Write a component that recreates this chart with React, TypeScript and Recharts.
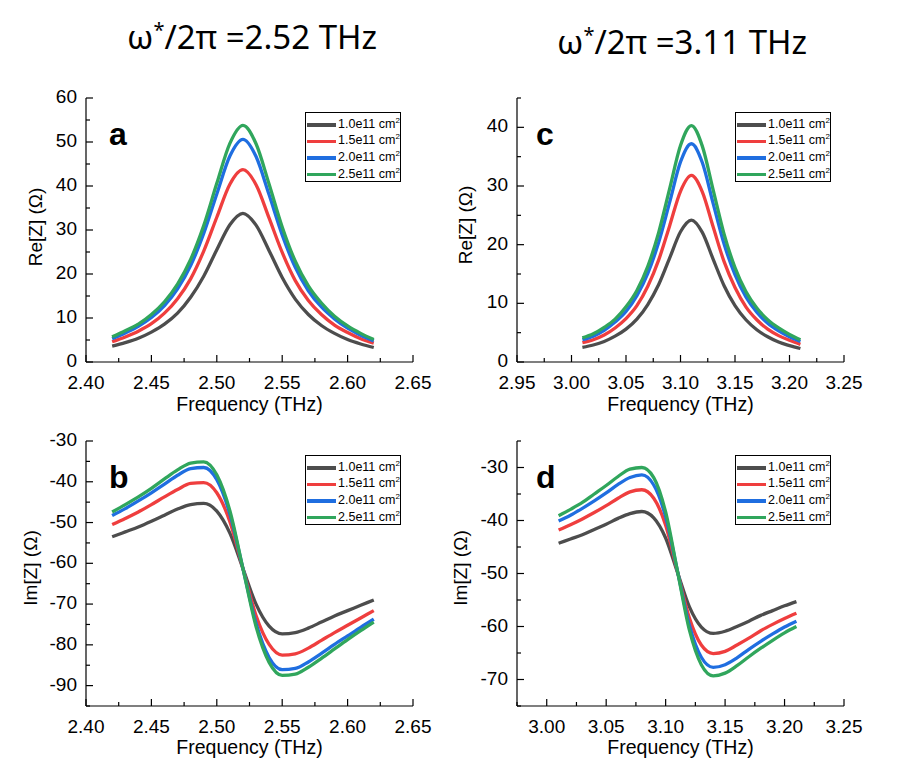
import React from "react";
import { LineChart, Line, XAxis, YAxis } from "recharts";

// frequency samples (THz)
const FREQ_LOW = [
  2.42, 2.43, 2.44, 2.45, 2.46, 2.47, 2.48, 2.49, 2.5, 2.51, 2.52, 2.53, 2.54,
  2.55, 2.56, 2.57, 2.58, 2.59, 2.6, 2.61, 2.62,
];
const FREQ_HIGH = [
  3.01, 3.02, 3.03, 3.04, 3.05, 3.06, 3.07, 3.08, 3.09, 3.1, 3.11, 3.12, 3.13,
  3.14, 3.15, 3.16, 3.17, 3.18, 3.19, 3.2, 3.21,
];

// panel a: Re[Z], resonance 2.52 THz
const RE_A_10 = [3.6, 4.4, 5.4, 6.8, 8.6, 11.1, 14.7, 19.5, 25.5, 31.2, 33.8, 31.1, 25.3, 19.2, 14.3, 10.8, 8.3, 6.5, 5.1, 4.1, 3.3];
const RE_A_15 = [4.6, 5.7, 7.0, 8.7, 11.1, 14.4, 18.9, 25.2, 32.9, 40.4, 43.7, 40.3, 32.7, 24.9, 18.5, 14.0, 10.8, 8.4, 6.7, 5.3, 4.3];
const RE_A_20 = [5.3, 6.6, 8.1, 10.1, 12.8, 16.6, 21.9, 29.2, 38.2, 46.8, 50.6, 46.7, 38.0, 28.9, 21.5, 16.2, 12.5, 9.8, 7.7, 6.1, 4.8];
const RE_A_25 = [5.7, 7.1, 8.6, 10.8, 13.7, 17.7, 23.3, 31.0, 40.6, 49.7, 53.8, 49.6, 40.4, 30.7, 22.9, 17.3, 13.4, 10.4, 8.2, 6.5, 5.1];

// panel b: Im[Z], resonance 2.52 THz
const IM_B_10 = [-53.5, -52.3, -51.1, -49.7, -48.2, -46.7, -45.6, -45.3, -47.2, -52.6, -61.3, -70.0, -75.4, -77.3, -77.0, -75.9, -74.4, -72.9, -71.6, -70.3, -69.0];
const IM_B_15 = [-50.5, -49.0, -47.4, -45.6, -43.7, -41.9, -40.4, -40.2, -42.7, -49.8, -61.3, -72.8, -79.9, -82.5, -82.2, -80.8, -78.9, -77.0, -75.2, -73.4, -71.6];
const IM_B_20 = [-48.3, -46.6, -44.7, -42.7, -40.6, -38.4, -36.8, -36.5, -39.5, -47.9, -61.3, -74.7, -83.1, -86.1, -85.8, -84.2, -82.1, -79.9, -77.8, -75.7, -73.7];
const IM_B_25 = [-47.4, -45.6, -43.7, -41.6, -39.3, -37.1, -35.4, -35.1, -38.3, -47.1, -61.3, -75.5, -84.3, -87.5, -87.2, -85.5, -83.3, -81.0, -78.7, -76.5, -74.4];

// panel c: Re[Z], resonance 3.11 THz
const RE_C_10 = [2.5, 2.9, 3.5, 4.4, 5.6, 7.3, 9.8, 13.2, 17.7, 22.2, 24.2, 22.1, 17.5, 13.0, 9.6, 7.2, 5.5, 4.3, 3.4, 2.8, 2.3];
const RE_C_15 = [3.3, 3.8, 4.6, 5.8, 7.4, 9.6, 12.9, 17.4, 23.2, 29.1, 31.8, 29.0, 23.0, 17.1, 12.7, 9.4, 7.2, 5.6, 4.5, 3.7, 3.0];
const RE_C_20 = [3.8, 4.4, 5.4, 6.8, 8.6, 11.3, 15.1, 20.4, 27.2, 34.1, 37.2, 34.0, 27.0, 20.1, 14.9, 11.1, 8.5, 6.6, 5.3, 4.3, 3.5];
const RE_C_25 = [4.1, 4.8, 5.9, 7.3, 9.4, 12.2, 16.3, 22.1, 29.5, 36.9, 40.3, 36.8, 29.3, 21.8, 16.1, 12.0, 9.2, 7.2, 5.8, 4.7, 3.8];

// panel d: Im[Z], resonance 3.11 THz
const IM_D_10 = [-44.3, -43.5, -42.7, -41.7, -40.7, -39.6, -38.7, -38.3, -39.5, -43.3, -49.8, -56.3, -60.1, -61.3, -60.9, -60.0, -59.0, -57.9, -57.0, -56.1, -55.3];
const IM_D_15 = [-41.8, -40.8, -39.7, -38.5, -37.2, -35.8, -34.6, -34.2, -35.8, -40.9, -49.7, -58.4, -63.5, -65.1, -64.7, -63.5, -62.2, -60.8, -59.6, -58.5, -57.5];
const IM_D_20 = [-40.1, -39.0, -37.7, -36.3, -34.8, -33.2, -31.9, -31.4, -33.3, -39.3, -49.6, -59.8, -65.8, -67.7, -67.2, -65.9, -64.3, -62.8, -61.4, -60.1, -59.0];
const IM_D_25 = [-39.1, -37.9, -36.6, -35.0, -33.4, -31.7, -30.3, -30.0, -31.9, -38.4, -49.6, -60.7, -67.2, -69.3, -68.8, -67.4, -65.7, -64.1, -62.6, -61.2, -60.0];

// tick positions (majors get labels, the rest are minor ticks)
const X_TICKS_LOW = [2.4, 2.425, 2.45, 2.475, 2.5, 2.525, 2.55, 2.575, 2.6, 2.625, 2.65];
const X_TICKS_C = [2.95, 2.975, 3.0, 3.025, 3.05, 3.075, 3.1, 3.125, 3.15, 3.175, 3.2, 3.225, 3.25];
const X_TICKS_D = [2.975, 3.0, 3.025, 3.05, 3.075, 3.1, 3.125, 3.15, 3.175, 3.2, 3.225, 3.25];
const Y_TICKS_A = [0, 5, 10, 15, 20, 25, 30, 35, 40, 45, 50, 55, 60];
const Y_TICKS_B = [-95, -90, -85, -80, -75, -70, -65, -60, -55, -50, -45, -40, -35, -30];
const Y_TICKS_C = [0, 5, 10, 15, 20, 25, 30, 35, 40, 45];
const Y_TICKS_D = [-75, -70, -65, -60, -55, -50, -45, -40, -35, -30, -25];

const SERIES = [
  { key: "n10", label: "1.0e11", color: "#4d4d4d" },
  { key: "n15", label: "1.5e11", color: "#ef3e3e" },
  { key: "n20", label: "2.0e11", color: "#1f6ee0" },
  { key: "n25", label: "2.5e11", color: "#30a65c" },
];

const rows = (freq: number[], a: number[], b: number[], c: number[], d: number[]) =>
  freq.map((f, i) => ({ f, n10: a[i], n15: b[i], n20: c[i], n25: d[i] }));

const DATA_A = rows(FREQ_LOW, RE_A_10, RE_A_15, RE_A_20, RE_A_25);
const DATA_B = rows(FREQ_LOW, IM_B_10, IM_B_15, IM_B_20, IM_B_25);
const DATA_C = rows(FREQ_HIGH, RE_C_10, RE_C_15, RE_C_20, RE_C_25);
const DATA_D = rows(FREQ_HIGH, IM_D_10, IM_D_15, IM_D_20, IM_D_25);

const FONT = "'Liberation Sans', Arial, sans-serif";
const AX = "#000";
const AXW = 1.2;
const MAJOR = 7;
const MINOR = 4;
const TICK_FS = 19;

const isMajorX = (v: number) => Math.abs(v * 20 - Math.round(v * 20)) < 1e-6;
const isMajorY = (v: number) => Math.abs(v % 10) < 1e-6;

function BottomTick({ x, y, payload }: any) {
  const major = isMajorX(payload.value);
  return (
    <g>
      <line x1={x} x2={x} y1={y} y2={y - (major ? MAJOR : MINOR)} stroke={AX} strokeWidth={AXW} />
      {major && (
        <text x={x} y={y + 26.5} textAnchor="middle" fontSize={TICK_FS} fontFamily={FONT} fill="#000">
          {payload.value.toFixed(2)}
        </text>
      )}
    </g>
  );
}

function TopTick({ x, y, payload }: any) {
  const major = isMajorX(payload.value);
  return <line x1={x} x2={x} y1={y} y2={y + (major ? MAJOR : MINOR)} stroke={AX} strokeWidth={AXW} />;
}

function LeftTick({ x, y, payload }: any) {
  const major = isMajorY(payload.value);
  return (
    <g>
      <line x1={x} x2={x + (major ? MAJOR : MINOR)} y1={y} y2={y} stroke={AX} strokeWidth={AXW} />
      {major && (
        <text x={x - 9} y={y + 5} textAnchor="end" fontSize={TICK_FS} fontFamily={FONT} fill="#000">
          {payload.value}
        </text>
      )}
    </g>
  );
}

function RightTick({ x, y, payload }: any) {
  const major = isMajorY(payload.value);
  return <line x1={x} x2={x - (major ? MAJOR : MINOR)} y1={y} y2={y} stroke={AX} strokeWidth={AXW} />;
}

function LegendBox({ left, top }: { left: number; top: number }) {
  return (
    <div
      style={{
        position: "absolute",
        left,
        top,
        width: 96,
        height: 70,
        boxSizing: "border-box",
        border: "1.2px solid #000",
        background: "#fff",
        fontFamily: FONT,
        fontSize: 12.5,
        color: "#000",
      }}
    >
      {SERIES.map((s, i) => (
        <div
          key={s.key}
          style={{ position: "absolute", left: 1, top: 3.5 + i * 16.6, height: 16.6, display: "flex", alignItems: "center" }}
        >
          <div style={{ width: 29, height: 3.5, background: s.color }} />
          <span style={{ marginLeft: 2, whiteSpace: "nowrap", lineHeight: "14px" }}>
            {s.label} cm
            <span style={{ fontSize: 8, position: "relative", top: -5 }}>2</span>
          </span>
        </div>
      ))}
    </div>
  );
}

type PanelProps = {
  left: number;
  top: number;
  width: number;
  height: number;
  margin: { top: number; right: number; bottom: number; left: number };
  yWidth: number;
  xHeight: number;
  data: any[];
  xDomain: [number, number];
  xTicks: number[];
  yDomain: [number, number];
  yTicks: number[];
};

function Panel(p: PanelProps) {
  return (
    <div style={{ position: "absolute", left: p.left, top: p.top }}>
      <LineChart width={p.width} height={p.height} data={p.data} margin={p.margin}>
        <XAxis
          dataKey="f"
          type="number"
          domain={p.xDomain}
          ticks={p.xTicks}
          interval={0}
          allowDataOverflow
          height={p.xHeight}
          tickSize={0}
          tickMargin={0}
          tickLine={false}
          axisLine={{ stroke: AX, strokeWidth: AXW }}
          tick={BottomTick}
        />
        <XAxis
          xAxisId="top"
          orientation="top"
          dataKey="f"
          type="number"
          domain={p.xDomain}
          ticks={p.xTicks}
          interval={0}
          allowDataOverflow
          height={0}
          tickSize={0}
          tickMargin={0}
          tickLine={false}
          axisLine={{ stroke: AX, strokeWidth: AXW }}
          tick={TopTick}
        />
        <YAxis
          type="number"
          domain={p.yDomain}
          ticks={p.yTicks}
          interval={0}
          allowDataOverflow
          width={p.yWidth}
          tickSize={0}
          tickMargin={0}
          tickLine={false}
          axisLine={{ stroke: AX, strokeWidth: AXW }}
          tick={LeftTick}
        />
        <YAxis
          yAxisId="right"
          orientation="right"
          type="number"
          domain={p.yDomain}
          ticks={p.yTicks}
          interval={0}
          allowDataOverflow
          width={0}
          tickSize={0}
          tickMargin={0}
          tickLine={false}
          axisLine={{ stroke: AX, strokeWidth: AXW }}
          tick={RightTick}
        />
        {SERIES.map((s) => (
          <Line
            key={s.key}
            dataKey={s.key}
            type="monotone"
            stroke={s.color}
            strokeWidth={3.3}
            dot={false}
            isAnimationActive={false}
          />
        ))}
      </LineChart>
    </div>
  );
}

function Overlay() {
  const t = { fontFamily: FONT, fill: "#000" } as const;
  const yTitle = (x: number, y: number, text: string) => (
    <text x={x} y={y} transform={`rotate(-90 ${x} ${y})`} textAnchor="middle" dominantBaseline="central" fontSize={19} {...t}>
      {text}
    </text>
  );
  const xTitle = (x: number, y: number) => (
    <text x={x} y={y} textAnchor="middle" dominantBaseline="central" fontSize={19.5} {...t}>
      Frequency (THz)
    </text>
  );
  const letter = (x: number, y: number, s: string) => (
    <text x={x} y={y} fontSize={32} fontWeight="bold" {...t}>
      {s}
    </text>
  );
  const title = (x: number, y: number, val: string) => (
    <text x={x} y={y} fontSize={33} fontFamily="'Noto Sans', sans-serif" fill="#000">
      ω<tspan dy={-12} fontSize={20}>*</tspan>
      <tspan dy={12}>/2π ={val} THz</tspan>
    </text>
  );
  return (
    <svg width={915} height={770} style={{ position: "absolute", left: 0, top: 0, pointerEvents: "none" }}>
      {title(127, 49, "2.52")}
      {title(557, 54, "3.11")}
      {letter(109, 145, "a")}
      {letter(109, 488, "b")}
      {letter(536, 145, "c")}
      {letter(536, 488, "d")}
      {xTitle(249.5, 404)}
      {xTitle(249.5, 747)}
      {xTitle(680.5, 404)}
      {xTitle(680.5, 747)}
      {yTitle(35, 227, "Re[Z] (Ω)")}
      {yTitle(30, 568, "Im[Z] (Ω)")}
      {yTitle(465, 225, "Re[Z] (Ω)")}
      {yTitle(460, 568, "Im[Z] (Ω)")}
    </svg>
  );
}

export default function App() {
  return (
    <div style={{ position: "absolute", left: 0, top: 0, width: 915, height: 770, background: "#fff", overflow: "hidden" }}>
      <Panel
        left={0}
        top={80}
        width={450}
        height={340}
        margin={{ top: 18, right: 37, bottom: 0, left: 0 }}
        yWidth={86}
        xHeight={58}
        data={DATA_A}
        xDomain={[2.4, 2.65]}
        xTicks={X_TICKS_LOW}
        yDomain={[0, 60]}
        yTicks={Y_TICKS_A}
      />
      <Panel
        left={0}
        top={420}
        width={450}
        height={350}
        margin={{ top: 21, right: 37, bottom: 0, left: 0 }}
        yWidth={86}
        xHeight={64}
        data={DATA_B}
        xDomain={[2.4, 2.65]}
        xTicks={X_TICKS_LOW}
        yDomain={[-95, -30]}
        yTicks={Y_TICKS_B}
      />
      <Panel
        left={450}
        top={80}
        width={465}
        height={340}
        margin={{ top: 18, right: 71, bottom: 0, left: 0 }}
        yWidth={67}
        xHeight={58}
        data={DATA_C}
        xDomain={[2.95, 3.25]}
        xTicks={X_TICKS_C}
        yDomain={[0, 45]}
        yTicks={Y_TICKS_C}
      />
      <Panel
        left={450}
        top={420}
        width={465}
        height={350}
        margin={{ top: 21, right: 71, bottom: 0, left: 0 }}
        yWidth={67}
        xHeight={64}
        data={DATA_D}
        xDomain={[2.975, 3.25]}
        xTicks={X_TICKS_D}
        yDomain={[-75, -25]}
        yTicks={Y_TICKS_D}
      />
      <LegendBox left={305} top={112} />
      <LegendBox left={735} top={112} />
      <LegendBox left={305} top={455} />
      <LegendBox left={735} top={455} />
      <Overlay />
    </div>
  );
}
